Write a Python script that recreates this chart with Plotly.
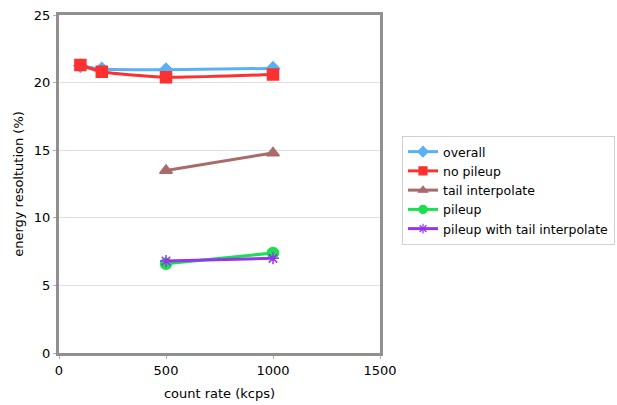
import plotly.graph_objects as go

x_all = [100, 200, 500, 1000]
overall = [21.25, 21.0, 20.95, 21.05]
no_pileup = [21.3, 20.8, 20.4, 20.6]
x_tail = [500, 1000]
tail_interp = [13.5, 14.8]
pileup = [6.6, 7.4]
pileup_tail = [6.8, 7.0]

series = [
    ("overall", x_all, overall, "#5ab0f5", "diamond", 10),
    ("no pileup", x_all, no_pileup, "#ff3030", "square", 11),
    ("tail interpolate", x_tail, tail_interp, "#a86a6a", "triangle-up", 11),
    ("pileup", x_tail, pileup, "#18e050", "circle", 11),
    ("pileup with tail interpolate", x_tail, pileup_tail, "#9535f0", "asterisk-open", 10),
]

fig = go.Figure()
for name, xs, ys, col, sym, sz in series:
    fig.add_trace(go.Scatter(
        x=xs, y=ys, name=name, mode="lines+markers", showlegend=False,
        line=dict(color=col, width=3, shape="spline", smoothing=0.6),
        marker=dict(symbol=sym, size=sz, color=col, line=dict(color=col, width=1.5)),
    ))
# legend entries with smaller markers, as in the reference legend
for name, xs, ys, col, sym, sz in series:
    fig.add_trace(go.Scatter(
        x=[None], y=[None], name=name, mode="lines+markers", showlegend=True,
        line=dict(color=col, width=3),
        marker=dict(symbol=sym, size=8, color=col, line=dict(color=col, width=1.2)),
    ))

fig.update_layout(
    width=617, height=405,
    margin=dict(l=59, r=237, t=15, b=52, autoexpand=False),
    paper_bgcolor="white", plot_bgcolor="white",
    font=dict(family="DejaVu Sans", size=12.5, color="black"),
    showlegend=True,
    legend=dict(xref="container", yref="container", x=402/617, y=1-136/405,
                xanchor="left", yanchor="top",
                bordercolor="#d0d0d0", borderwidth=1, font=dict(size=12.5),
                tracegroupgap=0, itemsizing="trace", itemwidth=30),
)
fig.update_xaxes(range=[0, 1500], tickvals=[0, 500, 1000, 1500], showgrid=False,
                 zeroline=False, showline=True, linecolor="#909090", linewidth=3,
                 mirror=True, ticks="outside", ticklen=3, tickcolor="#b0b0b0",
                 tickfont=dict(size=13),
                 title=dict(text="count rate (kcps)", standoff=13, font=dict(size=13)))
fig.update_yaxes(range=[0, 25], tickvals=[0, 5, 10, 15, 20, 25], showgrid=True,
                 gridcolor="#e0e0e0", zeroline=False, showline=True,
                 linecolor="#909090", linewidth=3, mirror=True,
                 ticks="outside", ticklen=3, tickcolor="#b0b0b0",
                 tickfont=dict(size=13),
                 title=dict(text="energy resoltution (%)", standoff=8, font=dict(size=13)))

fig.write_html("out.html")
